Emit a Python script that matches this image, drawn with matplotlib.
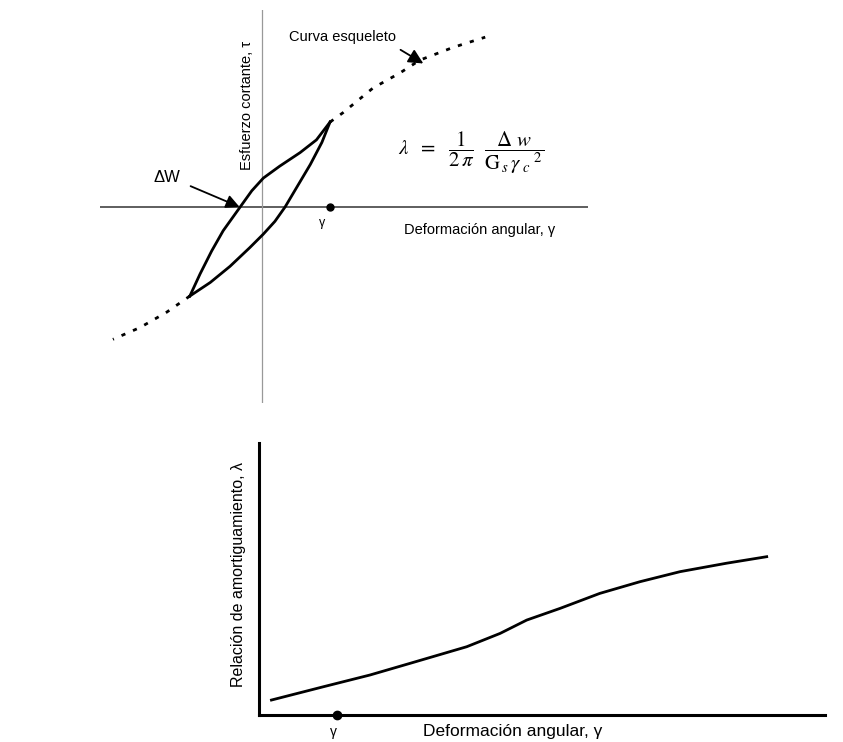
import matplotlib
matplotlib.use('Agg')
import matplotlib.pyplot as plt

plt.rcParams['font.family'] = ['Liberation Sans', 'DejaVu Sans']
plt.rcParams['mathtext.fontset'] = 'stix'

# hysteresis loop (gamma / gamma_c, tau / tau_c)
loop_up_x = [-1.06, -0.91, -0.74, -0.57, -0.32, -0.15, 0.02, 0.26, 0.56, 0.80, 1.0]
loop_up_y = [-1.05, -0.79, -0.52, -0.28, 0.0, 0.19, 0.34, 0.48, 0.64, 0.79, 1.0]
loop_dn_x = [-1.06, -0.76, -0.47, -0.18, 0.02, 0.19, 0.34, 0.51, 0.71, 0.88, 1.0]
loop_dn_y = [-1.05, -0.89, -0.70, -0.48, -0.32, -0.17, 0.0, 0.23, 0.50, 0.76, 1.0]

# skeleton curve (dotted parts outside the loop)
skel_hi_x = [1.0, 1.19, 1.63, 2.03, 2.32, 2.81, 3.28]
skel_hi_y = [1.0, 1.11, 1.40, 1.58, 1.73, 1.88, 2.0]
skel_lo_x = [-1.06, -1.40, -1.79, -2.19]
skel_lo_y = [-1.05, -1.24, -1.42, -1.56]

gamma_c = 1.0

# damping ratio vs strain
damp_x = [0.22, 1.14, 1.96, 2.67, 3.67, 4.26, 4.73, 5.32, 6.02, 6.73, 7.44, 8.26, 8.97]
damp_y = [0.55, 1.04, 1.47, 1.90, 2.51, 3.00, 3.49, 3.92, 4.47, 4.90, 5.27, 5.58, 5.82]
gamma_mark = 1.38

fig = plt.figure(figsize=(8.43, 7.42), dpi=100)

# ---- top: stress-strain loop ----
ax = fig.add_axes([100 / 843, 1 - 403 / 742, 488 / 843, 393 / 742])
ax.set_xlim(-2.38, 4.79)
ax.set_ylim(-2.31, 2.32)
ax.axis('off')
ax.axhline(0, color='#333333', lw=1.1)
ax.axvline(0, color='#999999', lw=0.9)

ax.plot(loop_up_x, loop_up_y, color='black', lw=2)
ax.plot(loop_dn_x, loop_dn_y, color='black', lw=2)
ax.plot(skel_hi_x, skel_hi_y, color='black', lw=2, ls=(0, (1.5, 3)))
ax.plot(skel_lo_x, skel_lo_y, color='black', lw=2, ls=(0, (1.5, 3)))
ax.plot([gamma_c], [0], 'o', color='black', ms=5)

ax.text(0.88, -0.19, 'γ', fontsize=9, ha='center', va='center')
ax.text(3.2, -0.27, 'Deformación angular, γ', fontsize=10.5, ha='center', va='center')
ax.text(-0.22, 1.2, 'Esfuerzo cortante, τ', fontsize=10.5, rotation=90,
        ha='center', va='center')
ax.annotate('Curva esqueleto', xy=(2.37, 1.69), xytext=(1.19, 2.0),
            fontsize=10.5, ha='center', va='center',
            arrowprops=dict(arrowstyle='-|>', color='black', lw=1.3,
                            mutation_scale=22, shrinkA=4, shrinkB=0,
                            relpos=(0.95, 0.0)))
ax.annotate('ΔW', xy=(-0.33, 0.0), xytext=(-1.40, 0.35),
            fontsize=12, ha='center', va='center',
            arrowprops=dict(arrowstyle='-|>', color='black', lw=1.3,
                            mutation_scale=20, shrinkA=6, shrinkB=0,
                            relpos=(1.0, 0.2)))
ax.text(3.07, 0.64,
        r'$\lambda\ \ =\ \ \dfrac{1}{2\,\pi}\ \ \dfrac{\Delta\ w}'
        r'{\mathrm{G}_{\,s}\,\gamma_{\ c}{}^{\ 2}}$',
        fontsize=15, ha='center', va='center')

# ---- bottom: damping ratio ----
bx = fig.add_axes([259 / 843, 1 - 715 / 742, 566 / 843, 272 / 742])
bx.set_xlim(0, 10)
bx.set_ylim(0, 10)
for s in ['top', 'right']:
    bx.spines[s].set_visible(False)
for s in ['left', 'bottom']:
    bx.spines[s].set_linewidth(2.2)
bx.set_xticks([])
bx.set_yticks([])
bx.plot(damp_x, damp_y, color='black', lw=2)
bx.plot([gamma_mark], [0], 'o', color='black', ms=6, clip_on=False, zorder=5)
bx.text(gamma_mark - 0.07, -0.62, 'γ', fontsize=10, ha='center', va='center')
bx.text(4.49, -0.6, 'Deformación angular, γ', fontsize=12.5, ha='center', va='center')
bx.text(-0.37, 5.18, 'Relación de amortiguamiento, λ', fontsize=11.5,
        rotation=90, ha='center', va='center')

fig.savefig('out.png', dpi=100)
